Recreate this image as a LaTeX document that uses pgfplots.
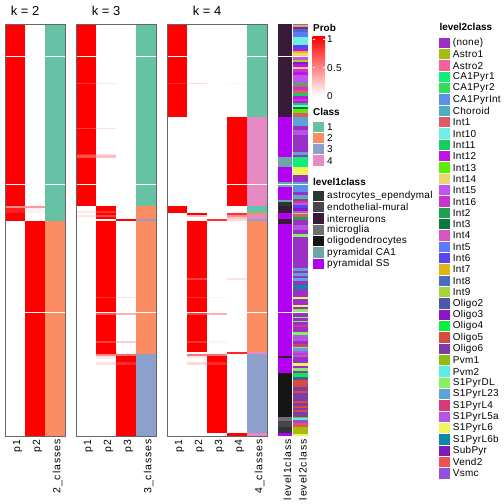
\documentclass[border=0pt]{standalone}
\usepackage{fontspec}
\setmainfont{Liberation Sans}
\usepackage{pgfplots}
\pgfplotsset{compat=1.18}
% class colours
\definecolor{cA}{HTML}{66C2A5}\definecolor{cB}{HTML}{FC8D62}
\definecolor{cC}{HTML}{8DA0CB}\definecolor{cD}{HTML}{E78AC3}
% level1 colours
\definecolor{Lastro}{HTML}{2A3732}\definecolor{Lendo}{HTML}{4B464D}
\definecolor{Linter}{HTML}{391B37}\definecolor{Lmicro}{HTML}{6E6F72}
\definecolor{Loligo}{HTML}{151515}\definecolor{LCA}{HTML}{6BA8A5}
\definecolor{LSS}{HTML}{B200F2}
% level2 colours
\definecolor{Lnone}{HTML}{9B30C8}\definecolor{Astroa}{HTML}{A6BD0E}
\definecolor{Astrob}{HTML}{F7609A}\definecolor{CAa}{HTML}{11EE77}
\definecolor{CAb}{HTML}{33DD55}\definecolor{CAint}{HTML}{5B8FE8}
\definecolor{Choroid}{HTML}{4AAFBF}\definecolor{Inta}{HTML}{E05A64}
\definecolor{Intj}{HTML}{6EEEE6}\definecolor{Intk}{HTML}{14CC60}
\definecolor{Intl}{HTML}{BE14E6}\definecolor{Intm}{HTML}{5CEE00}
\definecolor{Intn}{HTML}{E8D66E}\definecolor{Into}{HTML}{BE55F0}
\definecolor{Intp}{HTML}{CC33CC}\definecolor{Intb}{HTML}{1FA050}
\definecolor{Intc}{HTML}{0A7A3C}\definecolor{Intd}{HTML}{D455C3}
\definecolor{Inte}{HTML}{5B7BF7}\definecolor{Intf}{HTML}{5746F0}
\definecolor{Intg}{HTML}{E3B514}\definecolor{Inth}{HTML}{4A6CC4}
\definecolor{Inti}{HTML}{A4D43A}\definecolor{Olb}{HTML}{4A5AA8}
\definecolor{Olc}{HTML}{8E16C8}\definecolor{Old}{HTML}{0AEE3C}
\definecolor{Ole}{HTML}{D84A3E}\definecolor{Olf}{HTML}{7E3CA8}
\definecolor{Pvma}{HTML}{8CBE10}\definecolor{Pvmb}{HTML}{5AEEE0}
\definecolor{SDL}{HTML}{88F060}\definecolor{Sb}{HTML}{5CA4D4}
\definecolor{Sc}{HTML}{D63A78}\definecolor{Sd}{HTML}{B654E6}
\definecolor{Se}{HTML}{F2F25C}\definecolor{Sf}{HTML}{0A88A8}
\definecolor{SubPyr}{HTML}{7A1AB8}\definecolor{Vend}{HTML}{F05050}
\definecolor{Vsmc}{HTML}{9050E0}
\newfontfamily\tickfont[LetterSpace=9]{Liberation Sans}
\newfontfamily\legfont[LetterSpace=3]{Liberation Sans}
\newcommand{\cell}[5]{\addplot[draw=none,fill=#5,forget plot] coordinates {(#1,#3) (#2,#3) (#2,#4) (#1,#4)} -- cycle;}
\newcommand{\pr}[5]{\cell{#1}{#2}{#3}{#4}{red!#5!white}}
\newcommand{\gaps}[2]{\cell{#1}{#2}{55.8}{57.1}{white}\cell{#1}{#2}{183.8}{185.1}{white}\cell{#1}{#2}{311.6}{312.9}{white}}
\newcommand{\La}[3]{\cell{278}{292}{#1}{#2}{#3}}
\newcommand{\Lb}[3]{\cell{293}{308}{#1}{#2}{#3}}
\pgfplotsset{hm/.style={scale only axis, height=412bp, ymin=24, ymax=436, y dir=reverse,
  axis on top, clip=false, anchor=north west, ytick=\empty, major tick length=0pt,
  xticklabel style={font=\tickfont\fontsize{10.5}{12}\selectfont, xshift=2.5bp, rotate=90, anchor=east},
  axis line style={draw=black!60, line width=0.9bp}}}
\begin{document}
\begin{tikzpicture}
% ---------------- k = 2
\begin{axis}[hm, at={(5bp,-24bp)}, width=60bp, xmin=0, xmax=3,
  xtick={0.5,1.5,2.5}, xticklabels={p1,p2,2\_classes}]
\pr{0}{1}{24}{206}{100}
\pr{0}{1}{206}{208}{45}
\pr{0}{1}{208}{213.3}{88}
\pr{0}{1}{213.3}{220.7}{100}
\pr{1}{2}{206}{208}{40}
\pr{1}{2}{208}{213.3}{5}
\pr{1}{2}{220.7}{436}{100}
\cell{2}{3}{24}{220.7}{cA}
\cell{2}{3}{220.7}{436}{cB}
\gaps{0}{3}
\node[anchor=base, font=\fontsize{13}{15}\selectfont] at (axis cs:1,24) [yshift=8.5bp] {k = 2};
\end{axis}
% ---------------- k = 3
\begin{axis}[hm, at={(76bp,-24bp)}, width=80bp, xmin=0, xmax=4,
  xtick={0.5,1.5,2.5,3.5}, xticklabels={p1,p2,p3,3\_classes}]
\pr{0}{1}{24}{206}{100}
\pr{0}{1}{82.7}{84.3}{80}\pr{1}{2}{82.7}{84.3}{10}
\pr{0}{1}{127.7}{129.3}{75}\pr{1}{2}{127.7}{129.3}{12}
\pr{0}{1}{154}{155.3}{85}\pr{1}{2}{154}{155.3}{10}
\pr{0}{1}{155.3}{158}{70}\pr{1}{2}{155.3}{158}{25}
\pr{0}{1}{210.7}{212.7}{10}\pr{0}{1}{214.7}{216.7}{10}
\pr{1}{2}{206}{218.7}{100}
\pr{1}{2}{210.7}{212.7}{80}\pr{1}{2}{214.7}{216.7}{75}
\pr{2}{3}{218.7}{220.7}{100}
\pr{1}{2}{220.7}{354}{100}
\pr{1}{2}{296.7}{298.3}{80}\pr{2}{3}{296.7}{298.3}{10}
\pr{1}{2}{313}{315}{70}\pr{2}{3}{313}{315}{30}
\pr{1}{2}{340.7}{342.7}{75}\pr{2}{3}{340.7}{342.7}{20}
\pr{1}{2}{354}{356}{45}\pr{2}{3}{354}{356}{60}
\pr{1}{2}{356}{358.7}{10}
\pr{2}{3}{356}{436}{100}
\pr{1}{2}{362}{364.7}{12}\pr{2}{3}{362}{364.7}{85}
\cell{3}{4}{24}{206}{cA}
\cell{3}{4}{206}{218.7}{cB}
\cell{3}{4}{218.7}{220.7}{cC}
\cell{3}{4}{220.7}{354}{cB}
\cell{3}{4}{354}{436}{cC}
\gaps{0}{4}
\node[anchor=base, font=\fontsize{13}{15}\selectfont] at (axis cs:1.5,24) [yshift=8.5bp] {k = 3};
\end{axis}
% ---------------- k = 4
\begin{axis}[hm, at={(167bp,-24bp)}, width=100bp, xmin=0, xmax=5,
  xtick={0.5,1.5,2.5,3.5,4.5}, xticklabels={p1,p2,p3,p4,4\_classes}]
\pr{0}{1}{24}{116.7}{100}
\pr{0}{1}{82.7}{84.3}{85}\pr{1}{2}{82.7}{84.3}{15}\pr{3}{4}{82.7}{84.3}{5}
\pr{3}{4}{116.7}{206}{100}
\pr{0}{1}{206}{212.7}{100}
\pr{1}{2}{212.7}{214.7}{100}\pr{3}{4}{212.7}{214.7}{80}
\pr{1}{2}{214.7}{216.7}{25}\pr{3}{4}{214.7}{216.7}{45}
\pr{3}{4}{216.7}{218.7}{25}
\pr{2}{3}{218.7}{220.7}{80}\pr{3}{4}{218.7}{220.7}{15}
\pr{1}{2}{220.7}{352}{100}
\pr{1}{2}{278}{279.7}{75}\pr{3}{4}{278}{279.7}{12}
\pr{1}{2}{296.7}{298.3}{80}\pr{2}{3}{296.7}{298.3}{5}
\pr{1}{2}{313}{314.7}{75}\pr{2}{3}{313}{314.7}{30}
\pr{1}{2}{341}{342.7}{80}\pr{2}{3}{341}{342.7}{5}
\pr{3}{4}{352}{354}{85}
\pr{1}{2}{354}{356}{55}\pr{2}{3}{354}{356}{55}
\pr{1}{2}{356}{358}{12}
\pr{2}{3}{356}{433.3}{100}
\pr{1}{2}{362}{364.7}{15}\pr{2}{3}{362}{364.7}{85}
\pr{3}{4}{433.3}{436}{100}
\cell{4}{5}{24}{116.7}{cA}
\cell{4}{5}{116.7}{206}{cD}
\cell{4}{5}{206}{212.7}{cA}
\cell{4}{5}{212.7}{214.7}{cB}
\cell{4}{5}{214.7}{218.7}{cD}
\cell{4}{5}{218.7}{220.7}{cC}
\cell{4}{5}{220.7}{352}{cB}
\cell{4}{5}{352}{354}{cD}
\cell{4}{5}{354}{433.3}{cC}
\cell{4}{5}{433.3}{436}{cD}
\gaps{0}{5}
\node[anchor=base, font=\fontsize{13}{15}\selectfont] at (axis cs:2,24) [yshift=8.5bp] {k = 4};
\end{axis}
% ---------------- annotations
\begin{axis}[hm, at={(278bp,-24bp)}, width=30bp, xmin=278, xmax=308,
  xtick={285,300.5}, xticklabels={level1class,level2class}, axis line style={draw=none}]
\La{24}{116.7}{Linter}
\La{116.7}{157.3}{LSS}
\La{157.3}{166.7}{LCA}
\La{166.7}{182}{LSS}
\La{182}{185.3}{LCA}
\La{185.3}{187.3}{LCA}
\La{187.3}{200}{LSS}
\La{200}{201.7}{LCA}
\La{201.7}{206}{Lastro}
\La{206}{213.3}{Linter}
\La{213.3}{219.3}{LSS}
\La{219.3}{224}{Linter}
\La{224}{356}{LSS}
\La{356}{358}{Linter}
\La{358}{372.7}{LSS}
\La{372.7}{416.7}{Loligo}
\La{416.7}{421}{Lmicro}
\La{421}{426.7}{Lendo}
\La{426.7}{433.3}{Lastro}
\La{433.3}{436}{LSS}
\Lb{24}{25.3}{Inte}\Lb{25.3}{27.3}{Intg}\Lb{27.3}{29.3}{Olc}\Lb{29.3}{32}{Inth}
\Lb{32}{36.7}{Inte}\Lb{36.7}{45}{Intj}\Lb{45}{49.3}{Intf}\Lb{49.3}{51.3}{Intl}
\Lb{51.3}{53.3}{Intg}\Lb{53.3}{57}{Intn}
\Lb{57}{58.7}{Intd}\Lb{58.7}{60}{Into}\Lb{60}{62}{Inti}\Lb{62}{64}{Olc}
\Lb{64}{66.7}{Intl}\Lb{66.7}{69.3}{Intn}\Lb{69.3}{72}{Intp}\Lb{72}{75.3}{Intl}
\Lb{75.3}{82.7}{Into}\Lb{82.7}{84.7}{Intk}\Lb{84.7}{87.3}{Inta}\Lb{87.3}{90}{Intp}
\Lb{90}{92.7}{Inta}\Lb{92.7}{96}{Intk}\Lb{96}{99.3}{Intl}\Lb{99.3}{101.3}{Intp}
\Lb{101.3}{103.3}{Intl}\Lb{103.3}{105.3}{Intk}\Lb{105.3}{107.3}{Intj}\Lb{107.3}{109.3}{Intc}
\Lb{109.3}{113.3}{Intm}\Lb{113.3}{116.7}{Inta}
\Lb{116.7}{126}{Sb}\Lb{126}{130}{Lnone}\Lb{130}{135}{Sd}\Lb{135}{151.7}{Lnone}
\Lb{151.7}{155}{Sb}\Lb{155}{157.3}{Lnone}\Lb{157.3}{166.7}{CAa}\Lb{166.7}{175.3}{Se}
\Lb{175.3}{181.7}{Lnone}\Lb{181.7}{185}{Sb}
\Lb{185}{191.7}{CAint}\Lb{191.7}{195}{Lnone}\Lb{195}{197.7}{Sb}\Lb{197.7}{199.3}{CAb}
\Lb{199.3}{200.7}{Lnone}\Lb{200.7}{202.7}{Sc}\Lb{202.7}{205}{Into}\Lb{205}{208.3}{Intf}
\Lb{208.3}{210.7}{Olc}\Lb{210.7}{212.7}{Sd}\Lb{212.7}{214.3}{SDL}\Lb{214.3}{216.7}{Inta}
\Lb{216.7}{220}{Intb}\Lb{220}{225}{Lnone}\Lb{225}{230}{Sd}\Lb{230}{234}{Lnone}
\Lb{234}{236.7}{SDL}\Lb{236.7}{268.3}{Lnone}\Lb{268.3}{270.7}{Sb}\Lb{270.7}{273.3}{Lnone}
\Lb{273.3}{276}{Sb}\Lb{276}{278.3}{Lnone}\Lb{278.3}{280.7}{Sb}\Lb{280.7}{285}{Lnone}
\Lb{285}{289.3}{Sf}\Lb{289.3}{297.3}{Lnone}\Lb{297.3}{299.3}{Se}\Lb{299.3}{305}{Lnone}
\Lb{305}{307.3}{Se}\Lb{307.3}{309.3}{Lnone}\Lb{309.3}{312.7}{SDL}
\Lb{312.7}{316.7}{Lnone}\Lb{316.7}{318.3}{SDL}\Lb{318.3}{320.7}{Lnone}\Lb{320.7}{322}{SDL}
\Lb{322}{325.3}{Lnone}\Lb{325.3}{327.3}{Sc}\Lb{327.3}{331.7}{Lnone}\Lb{331.7}{335}{SDL}
\Lb{335}{340.7}{Sd}\Lb{340.7}{344.3}{Lnone}\Lb{344.3}{346.7}{Sc}\Lb{346.7}{348.3}{SDL}
\Lb{348.3}{350.7}{Sb}\Lb{350.7}{352.7}{Sd}\Lb{352.7}{355}{Intp}\Lb{355}{357.3}{Sd}
\Lb{357.3}{363.3}{Lnone}\Lb{363.3}{365.7}{Se}\Lb{365.7}{368.3}{Lnone}\Lb{368.3}{370.7}{SDL}
\Lb{370.7}{372.7}{Lnone}\Lb{372.7}{377.3}{Old}\Lb{377.3}{380}{Olb}\Lb{380}{387.3}{Ole}
\Lb{387.3}{390.7}{Olf}\Lb{390.7}{393.3}{Ole}\Lb{393.3}{400.7}{Olf}\Lb{400.7}{403.3}{Ole}
\Lb{403.3}{406}{Olf}\Lb{406}{408}{Ole}\Lb{408}{410}{Olf}\Lb{410}{412}{Ole}
\Lb{412}{416.7}{Olf}\Lb{416.7}{418.3}{Pvma}\Lb{418.3}{420}{Pvmb}\Lb{420}{422.7}{Vsmc}
\Lb{422.7}{427.3}{Vend}\Lb{427.3}{434}{Astroa}\Lb{434}{436}{Se}
\gaps{278}{308}
\end{axis}
% ---------------- legends
\begin{scope}[x=1bp,y=-1bp, every node/.style={inner sep=0pt, font=\legfont\fontsize{10}{12}\selectfont}]
\node[anchor=west, font=\fontsize{10}{12}\selectfont\bfseries] at (313,28) {Prob};
\shade[top color=red, bottom color=white] (312.7,36.7) rectangle (325,96);
\foreach \yy in {39.3,67.7}{\draw[white, line width=0.6bp] (312.7,\yy) -- (314.7,\yy) (323,\yy) -- (325,\yy);}
\node[anchor=west] at (327,39.3) {1};
\node[anchor=west] at (327,67.7) {0.5};
\node[anchor=west] at (327,96) {0};
\node[anchor=west, font=\fontsize{10}{12}\selectfont\bfseries] at (313,111.7) {Class};
\foreach \c/\t [count=\i from 0] in {cA/1,cB/2,cC/3,cD/4}{
  \fill[\c] (312.7,121.5+\i*11.33) rectangle (324,131.8+\i*11.33);
  \node[anchor=west] at (327,126.7+\i*11.33) {\t};}
\node[anchor=west, font=\fontsize{10}{12}\selectfont\bfseries] at (313,182.3) {level1class};
\foreach \c/\t [count=\i from 0] in {Lastro/astrocytes\_ependymal,Lendo/endothelial-mural,Linter/interneurons,Lmicro/microglia,Loligo/oligodendrocytes,LCA/pyramidal CA1,LSS/pyramidal SS}{
  \fill[\c] (312.7,190.8+\i*11.33) rectangle (324,201.1+\i*11.33);
  \node[anchor=west] at (327,196+\i*11.33) {\t};}
\node[anchor=west, font=\fontsize{10}{12}\selectfont\bfseries] at (439.3,26.7) {level2class};
\foreach \c/\t [count=\i from 0] in {Lnone/(none),Astroa/Astro1,Astrob/Astro2,CAa/CA1Pyr1,CAb/CA1Pyr2,CAint/CA1PyrInt,Choroid/Choroid,Inta/Int1,Intj/Int10,Intk/Int11,Intl/Int12,Intm/Int13,Intn/Int14,Into/Int15,Intp/Int16,Intb/Int2,Intc/Int3,Intd/Int4,Inte/Int5,Intf/Int6,Intg/Int7,Inth/Int8,Inti/Int9,Olb/Oligo2,Olc/Oligo3,Old/Oligo4,Ole/Oligo5,Olf/Oligo6,Pvma/Pvm1,Pvmb/Pvm2,SDL/S1PyrDL,Sb/S1PyrL23,Sc/S1PyrL4,Sd/S1PyrL5a,Se/S1PyrL6,Sf/S1PyrL6b,SubPyr/SubPyr,Vend/Vend2,Vsmc/Vsmc}{
  \fill[\c] (439,37.8+\i*11.33) rectangle (450,48.1+\i*11.33);
  \node[anchor=west] at (452.7,43+\i*11.33) {\t};}
\end{scope}
\pgfresetboundingbox
\path[use as bounding box] (0,0) rectangle (504bp,-504bp);
\end{tikzpicture}
\end{document}
